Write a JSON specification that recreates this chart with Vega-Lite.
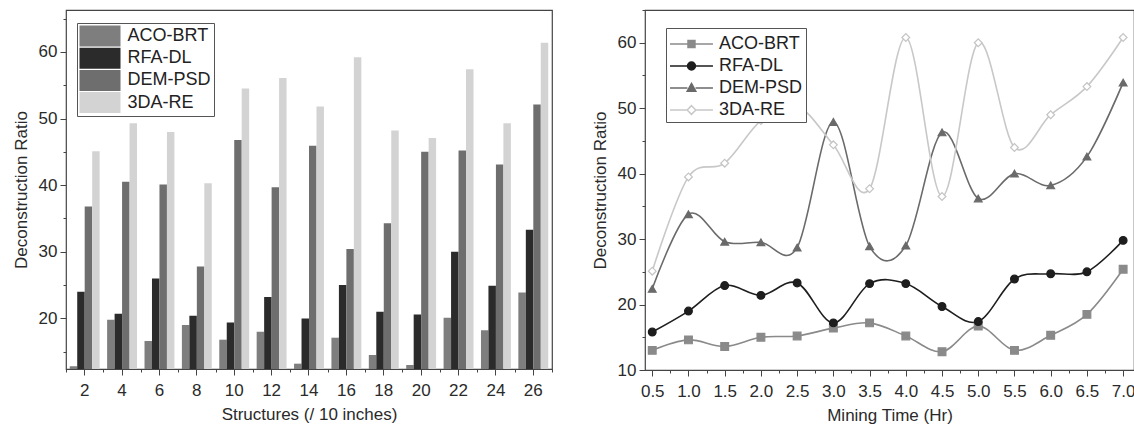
{
  "$schema": "https://vega.github.io/schema/vega-lite/v6.json",
  "background": "white",
  "padding": {"left": 11, "top": 8, "right": 0, "bottom": 0},
  "spacing": 36,
  "resolve": {"scale": {"color": "independent"}, "legend": {"color": "independent"}},
  "config": {
    "font": "Liberation Sans",
    "view": {"stroke": "#444", "strokeWidth": 1.2},
    "axis": {
      "grid": false,
      "domain": false,
      "labelFont": "Liberation Sans",
      "labelFontSize": 17,
      "labelColor": "#2a2a2a",
      "labelPadding": 3,
      "labelOverlap": false,
      "labelFlush": false,
      "titleFont": "Liberation Sans",
      "titleFontSize": 17,
      "titleFontWeight": "normal",
      "titleColor": "#2a2a2a",
      "tickColor": "#444",
      "tickWidth": 1
    },
    "axisX": {"labelPadding": 7},
    "legend": {
      "labelFont": "Liberation Sans",
      "labelFontSize": 18,
      "labelColor": "#222"
    }
  },
  "hconcat": [
    {
      "width": 486,
      "height": 359,
      "data": {"values": [
        {"structure": 2, "series": "ACO-BRT", "ratio": 12.8},
        {"structure": 2, "series": "RFA-DL", "ratio": 24.0},
        {"structure": 2, "series": "DEM-PSD", "ratio": 36.8},
        {"structure": 2, "series": "3DA-RE", "ratio": 45.1},
        {"structure": 4, "series": "ACO-BRT", "ratio": 19.8},
        {"structure": 4, "series": "RFA-DL", "ratio": 20.7},
        {"structure": 4, "series": "DEM-PSD", "ratio": 40.5},
        {"structure": 4, "series": "3DA-RE", "ratio": 49.3},
        {"structure": 6, "series": "ACO-BRT", "ratio": 16.6},
        {"structure": 6, "series": "RFA-DL", "ratio": 26.0},
        {"structure": 6, "series": "DEM-PSD", "ratio": 40.1},
        {"structure": 6, "series": "3DA-RE", "ratio": 48.0},
        {"structure": 8, "series": "ACO-BRT", "ratio": 19.0},
        {"structure": 8, "series": "RFA-DL", "ratio": 20.4},
        {"structure": 8, "series": "DEM-PSD", "ratio": 27.8},
        {"structure": 8, "series": "3DA-RE", "ratio": 40.3},
        {"structure": 10, "series": "ACO-BRT", "ratio": 16.8},
        {"structure": 10, "series": "RFA-DL", "ratio": 19.4},
        {"structure": 10, "series": "DEM-PSD", "ratio": 46.8},
        {"structure": 10, "series": "3DA-RE", "ratio": 54.5},
        {"structure": 12, "series": "ACO-BRT", "ratio": 18.0},
        {"structure": 12, "series": "RFA-DL", "ratio": 23.2},
        {"structure": 12, "series": "DEM-PSD", "ratio": 39.7},
        {"structure": 12, "series": "3DA-RE", "ratio": 56.1},
        {"structure": 14, "series": "ACO-BRT", "ratio": 13.2},
        {"structure": 14, "series": "RFA-DL", "ratio": 20.0},
        {"structure": 14, "series": "DEM-PSD", "ratio": 45.9},
        {"structure": 14, "series": "3DA-RE", "ratio": 51.8},
        {"structure": 16, "series": "ACO-BRT", "ratio": 17.1},
        {"structure": 16, "series": "RFA-DL", "ratio": 25.0},
        {"structure": 16, "series": "DEM-PSD", "ratio": 30.4},
        {"structure": 16, "series": "3DA-RE", "ratio": 59.2},
        {"structure": 18, "series": "ACO-BRT", "ratio": 14.5},
        {"structure": 18, "series": "RFA-DL", "ratio": 21.0},
        {"structure": 18, "series": "DEM-PSD", "ratio": 34.3},
        {"structure": 18, "series": "3DA-RE", "ratio": 48.2},
        {"structure": 20, "series": "ACO-BRT", "ratio": 13.0},
        {"structure": 20, "series": "RFA-DL", "ratio": 20.6},
        {"structure": 20, "series": "DEM-PSD", "ratio": 45.0},
        {"structure": 20, "series": "3DA-RE", "ratio": 47.1},
        {"structure": 22, "series": "ACO-BRT", "ratio": 20.1},
        {"structure": 22, "series": "RFA-DL", "ratio": 30.0},
        {"structure": 22, "series": "DEM-PSD", "ratio": 45.2},
        {"structure": 22, "series": "3DA-RE", "ratio": 57.4},
        {"structure": 24, "series": "ACO-BRT", "ratio": 18.2},
        {"structure": 24, "series": "RFA-DL", "ratio": 24.9},
        {"structure": 24, "series": "DEM-PSD", "ratio": 43.1},
        {"structure": 24, "series": "3DA-RE", "ratio": 49.3},
        {"structure": 26, "series": "ACO-BRT", "ratio": 23.9},
        {"structure": 26, "series": "RFA-DL", "ratio": 33.3},
        {"structure": 26, "series": "DEM-PSD", "ratio": 52.1},
        {"structure": 26, "series": "3DA-RE", "ratio": 61.4}
      ]},
      "encoding": {
        "y": {
          "field": "ratio", "type": "quantitative", "title": "Deconstruction Ratio",
          "scale": {"domain": [12.4, 66.3], "nice": false, "zero": false},
          "axis": {
            "values": [15, 20, 25, 30, 35, 40, 45, 50, 55, 60, 65],
            "labelExpr": "datum.value % 10 === 0 ? datum.label : ''",
            "labelFontSize": {"condition": {"test": "datum.value % 10 === 0", "value": 17}, "value": 0},
            "tickSize": {"condition": {"test": "datum.value % 10 === 0", "value": 6}, "value": 3},
            "titlePadding": 8
          }
        }
      },
      "layer": [
        {
          "mark": {"type": "bar", "clip": true},
          "encoding": {
            "x": {
              "field": "structure", "type": "ordinal", "title": "Structures (/ 10 inches)",
              "scale": {"paddingInner": 0.2, "paddingOuter": 0.1},
              "axis": {"labelAngle": 0, "tickSize": 6, "titlePadding": 8}
            },
            "xOffset": {
              "field": "series", "type": "nominal",
              "sort": ["ACO-BRT", "RFA-DL", "DEM-PSD", "3DA-RE"],
              "scale": {"paddingInner": 0, "paddingOuter": 0}
            },
            "color": {
              "field": "series", "type": "nominal",
              "sort": ["ACO-BRT", "RFA-DL", "DEM-PSD", "3DA-RE"],
              "scale": {"domain": ["ACO-BRT", "RFA-DL", "DEM-PSD", "3DA-RE"], "range": ["#7e7e7e", "#2b2b2b", "#6e6e6e", "#d3d3d3"]},
              "legend": {
                "title": null, "orient": "none", "legendX": 11, "legendY": 13,
                "symbolType": "M-1,-1H2.905V1H-1Z", "symbolSize": 441, "symbolStrokeWidth": 0,
                "symbolOpacity": 1,
                "labelOffset": 27, "strokeColor": "#555", "fillColor": "white", "padding": 2.5, "rowPadding": 1.2
              }
            }
          }
        },
        {
          "mark": {"type": "point", "opacity": 0},
          "encoding": {
            "x": {
              "field": "structure", "type": "quantitative",
              "scale": {"domain": [1, 27], "nice": false, "zero": false},
              "axis": {"orient": "bottom", "values": [1,3,5,7,9,11,13,15,17,19,21,23,25,27], "labels": false, "tickSize": 3, "title": null}
            }
          }
        }
      ],
      "resolve": {"scale": {"x": "independent"}, "axis": {"x": "independent"}}
    },
    {
      "width": 489,
      "height": 360,
      "data": {"values": [
        {"time": 0.5, "series": "ACO-BRT", "ratio": 13.0},
        {"time": 0.5, "series": "RFA-DL", "ratio": 15.8},
        {"time": 0.5, "series": "DEM-PSD", "ratio": 22.4},
        {"time": 0.5, "series": "3DA-RE", "ratio": 25.1},
        {"time": 1.0, "series": "ACO-BRT", "ratio": 14.6},
        {"time": 1.0, "series": "RFA-DL", "ratio": 19.0},
        {"time": 1.0, "series": "DEM-PSD", "ratio": 33.8},
        {"time": 1.0, "series": "3DA-RE", "ratio": 39.5},
        {"time": 1.5, "series": "ACO-BRT", "ratio": 13.6},
        {"time": 1.5, "series": "RFA-DL", "ratio": 22.9},
        {"time": 1.5, "series": "DEM-PSD", "ratio": 29.6},
        {"time": 1.5, "series": "3DA-RE", "ratio": 41.6},
        {"time": 2.0, "series": "ACO-BRT", "ratio": 15.0},
        {"time": 2.0, "series": "RFA-DL", "ratio": 21.4},
        {"time": 2.0, "series": "DEM-PSD", "ratio": 29.5},
        {"time": 2.0, "series": "3DA-RE", "ratio": 48.1},
        {"time": 2.5, "series": "ACO-BRT", "ratio": 15.2},
        {"time": 2.5, "series": "RFA-DL", "ratio": 23.3},
        {"time": 2.5, "series": "DEM-PSD", "ratio": 28.7},
        {"time": 2.5, "series": "3DA-RE", "ratio": 50.3},
        {"time": 3.0, "series": "ACO-BRT", "ratio": 16.4},
        {"time": 3.0, "series": "RFA-DL", "ratio": 17.2},
        {"time": 3.0, "series": "DEM-PSD", "ratio": 47.9},
        {"time": 3.0, "series": "3DA-RE", "ratio": 44.4},
        {"time": 3.5, "series": "ACO-BRT", "ratio": 17.2},
        {"time": 3.5, "series": "RFA-DL", "ratio": 23.2},
        {"time": 3.5, "series": "DEM-PSD", "ratio": 28.9},
        {"time": 3.5, "series": "3DA-RE", "ratio": 37.7},
        {"time": 4.0, "series": "ACO-BRT", "ratio": 15.2},
        {"time": 4.0, "series": "RFA-DL", "ratio": 23.2},
        {"time": 4.0, "series": "DEM-PSD", "ratio": 29.0},
        {"time": 4.0, "series": "3DA-RE", "ratio": 60.8},
        {"time": 4.5, "series": "ACO-BRT", "ratio": 12.8},
        {"time": 4.5, "series": "RFA-DL", "ratio": 19.7},
        {"time": 4.5, "series": "DEM-PSD", "ratio": 46.3},
        {"time": 4.5, "series": "3DA-RE", "ratio": 36.5},
        {"time": 5.0, "series": "ACO-BRT", "ratio": 16.7},
        {"time": 5.0, "series": "RFA-DL", "ratio": 17.4},
        {"time": 5.0, "series": "DEM-PSD", "ratio": 36.2},
        {"time": 5.0, "series": "3DA-RE", "ratio": 60.0},
        {"time": 5.5, "series": "ACO-BRT", "ratio": 13.0},
        {"time": 5.5, "series": "RFA-DL", "ratio": 23.9},
        {"time": 5.5, "series": "DEM-PSD", "ratio": 40.0},
        {"time": 5.5, "series": "3DA-RE", "ratio": 44.0},
        {"time": 6.0, "series": "ACO-BRT", "ratio": 15.3},
        {"time": 6.0, "series": "RFA-DL", "ratio": 24.7},
        {"time": 6.0, "series": "DEM-PSD", "ratio": 38.2},
        {"time": 6.0, "series": "3DA-RE", "ratio": 49.0},
        {"time": 6.5, "series": "ACO-BRT", "ratio": 18.5},
        {"time": 6.5, "series": "RFA-DL", "ratio": 25.0},
        {"time": 6.5, "series": "DEM-PSD", "ratio": 42.6},
        {"time": 6.5, "series": "3DA-RE", "ratio": 53.3},
        {"time": 7.0, "series": "ACO-BRT", "ratio": 25.4},
        {"time": 7.0, "series": "RFA-DL", "ratio": 29.8},
        {"time": 7.0, "series": "DEM-PSD", "ratio": 53.9},
        {"time": 7.0, "series": "3DA-RE", "ratio": 60.8}
      ]},
      "encoding": {
        "x": {
          "field": "time", "type": "quantitative", "title": "Mining Time (Hr)",
          "scale": {"domain": [0.4, 7.15], "nice": false, "zero": false},
          "axis": {
            "values": [0.5,0.75,1,1.25,1.5,1.75,2,2.25,2.5,2.75,3,3.25,3.5,3.75,4,4.25,4.5,4.75,5,5.25,5.5,5.75,6,6.25,6.5,6.75,7],
            "labelExpr": "(datum.value * 2) % 1 === 0 ? format(datum.value, '.1f') : ''",
            "labelFontSize": {"condition": {"test": "(datum.value * 2) % 1 === 0", "value": 17}, "value": 0},
            "tickSize": {"condition": {"test": "(datum.value * 2) % 1 === 0", "value": 6}, "value": 3},
            "titlePadding": 8
          }
        },
        "y": {
          "field": "ratio", "type": "quantitative", "title": "Deconstruction Ratio",
          "scale": {"domain": [10, 65], "nice": false, "zero": false},
          "axis": {
            "values": [10, 15, 20, 25, 30, 35, 40, 45, 50, 55, 60, 65],
            "labelExpr": "datum.value % 10 === 0 ? datum.label : ''",
            "labelFontSize": {"condition": {"test": "datum.value % 10 === 0", "value": 17}, "value": 0},
            "tickSize": {"condition": {"test": "datum.value % 10 === 0", "value": 6}, "value": 3},
            "titlePadding": 8
          }
        }
      },
      "layer": [
        {
          "mark": {"type": "line", "interpolate": "cardinal", "strokeWidth": 1.6},
          "encoding": {
            "color": {
              "field": "series", "type": "nominal",
              "sort": ["ACO-BRT", "RFA-DL", "DEM-PSD", "3DA-RE"],
              "scale": {"domain": ["ACO-BRT", "RFA-DL", "DEM-PSD", "3DA-RE"], "range": ["#8a8a8a", "#1e1e1e", "#6a6a6a", "#c8c8c8"]},
              "legend": {
                "title": null, "orient": "none", "legendX": 21, "legendY": 18,
                "symbolSize": 576, "symbolStrokeWidth": 1.5,
                "labelOffset": 24, "strokeColor": "#555", "fillColor": "white", "padding": 3, "rowPadding": 0,
                "encode": {
                  "symbols": {
                    "update": {
                      "shape": {"signal": "datum.value === 'ACO-BRT' ? 'M-1,0H0.5M1.08,0H2.58M0.5,-0.29H1.08V0.29H0.5Z' : datum.value === 'RFA-DL' ? 'M-1,0H0.46M1.12,0H2.58M0.46,0A0.33,0.33 0 1,0 1.12,0A0.33,0.33 0 1,0 0.46,0Z' : datum.value === 'DEM-PSD' ? 'M-1,0H0.45M1.13,0H2.58M0.79,-0.38L1.15,0.27L0.43,0.27Z' : 'M-1,0H0.43M1.15,0H2.58M0.79,-0.36L1.15,0L0.79,0.36L0.43,0Z'"},
                      "fill": {"signal": "datum.value === '3DA-RE' ? 'white' : datum.value === 'ACO-BRT' ? '#8a8a8a' : datum.value === 'RFA-DL' ? '#1e1e1e' : '#6a6a6a'"},
                      "stroke": {"signal": "datum.value === '3DA-RE' ? '#c4c4c4' : datum.value === 'ACO-BRT' ? '#8a8a8a' : datum.value === 'RFA-DL' ? '#1e1e1e' : '#6a6a6a'"},
                      "opacity": {"value": 1},
                      "fillOpacity": {"value": 1},
                      "strokeOpacity": {"value": 1}
                    }
                  }
                }
              }
            }
          }
        },
        {
          "mark": {"type": "point", "size": 60, "strokeWidth": 1.2, "opacity": 1},
          "encoding": {
            "shape": {
              "field": "series", "type": "nominal",
              "scale": {"domain": ["ACO-BRT", "RFA-DL", "DEM-PSD", "3DA-RE"], "range": ["square", "circle", "triangle-up", "diamond"]},
              "legend": null
            },
            "fill": {
              "field": "series", "type": "nominal",
              "scale": {"domain": ["ACO-BRT", "RFA-DL", "DEM-PSD", "3DA-RE"], "range": ["#8a8a8a", "#1e1e1e", "#6a6a6a", "#ffffff"]},
              "legend": null
            },
            "stroke": {
              "field": "series", "type": "nominal",
              "scale": {"domain": ["ACO-BRT", "RFA-DL", "DEM-PSD", "3DA-RE"], "range": ["#8a8a8a", "#1e1e1e", "#6a6a6a", "#c4c4c4"]},
              "legend": null
            }
          }
        }
      ]
    }
  ]
}
